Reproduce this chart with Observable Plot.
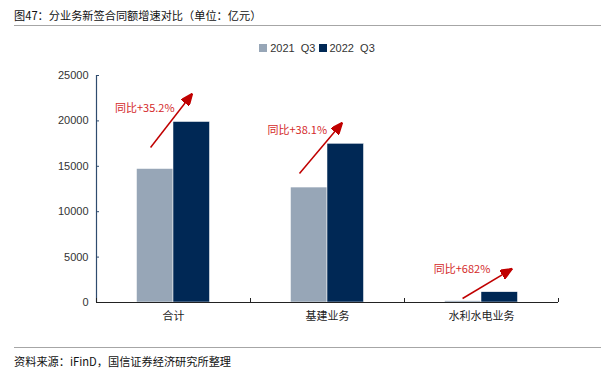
<!DOCTYPE html>
<html>
<head>
<meta charset="utf-8">
<script src="https://cdn.jsdelivr.net/npm/d3@7"></script>
<script src="https://cdn.jsdelivr.net/npm/@observablehq/plot@0.6"></script>
<style>
  html, body { margin: 0; padding: 0; background: #fff; }
  body { width: 601px; height: 376px; position: relative; overflow: hidden;
         font-family: "Noto Sans CJK SC", "Liberation Sans", sans-serif; color: #222; }
  #title { position: absolute; left: 14px; top: 8px; font-size: 11.2px; line-height: 14px; color: #111; }
  .hr { position: absolute; left: 14px; right: 0; height: 0; border-top: 1.5px solid #a6a6a6; }
  #legend { position: absolute; left: 0; width: 601px; top: 42px; text-align: center;
            font-family: "Liberation Sans", Arial, sans-serif; font-size: 11px; line-height: 13px; color: #333; padding-left: 36px; box-sizing: border-box; }
  #legend span.sw { display: inline-block; width: 8px; height: 8px; margin-right: 3px; vertical-align: -0px; }
  #legend span.item { margin-right: 3px; white-space: pre; }
  #chart { position: absolute; left: 0; top: 60px; }
  #source { position: absolute; left: 14px; top: 354px; font-size: 11.2px; line-height: 14px; color: #111; }
</style>
</head>
<body>
<div id="title"></div>
<div class="hr" style="top:25px"></div>
<div id="legend"></div>
<div id="chart"></div>
<div class="hr" style="top:347px"></div>
<div id="source"></div>
<script>
// ---- data ----
const categories = ["合计", "基建业务", "水利水电业务"];
const seriesNames = ["2021 Q3", "2022 Q3"];
const values2021 = [14700, 12660, 145];
const values2022 = [19880, 17480, 1134];
const growthLabels = ["同比+35.2%", "同比+38.1%", "同比+682%"];
const yTicks = [0, 5000, 10000, 15000, 20000, 25000];
const titleText = "图47：分业务新签合同额增速对比（单位：亿元）";
const sourceText = "资料来源：iFinD，国信证券经济研究所整理";
// annotation arrows (value units): start / end heights
const arrowFromY = [17070, 14200, 440];
const arrowToY = [23020, 19820, 3740];
const labelY = [21370, 18940, 3630];

// ---- styles / layout ----
const colors = ["#97a6b7", "#002855"];
const red = "#c00000";
const barW = 0.237;          // fraction of category slot
const arrowDx1 = [-0.149, -0.182, -0.123];
const arrowDx2 = [0.123, 0.097, 0.201];
const labelDx = [-0.38, -0.39, -0.31];

document.getElementById("title").textContent = titleText;
document.getElementById("source").textContent = sourceText;
document.getElementById("legend").innerHTML = seriesNames.map((s, i) =>
  `<span class="sw" style="background:${colors[i]}"></span><span class="item">${s.replace(" ", "  ")}</span>`).join("");

const bars = [];
categories.forEach((c, i) => {
  bars.push({cat: c, i, series: seriesNames[0], value: values2021[i], x1: i + 0.5 - barW, x2: i + 0.5});
  bars.push({cat: c, i, series: seriesNames[1], value: values2022[i], x1: i + 0.5, x2: i + 0.5 + barW});
});
const ann = categories.map((c, i) => ({
  cat: c, i,
  x1: i + 0.5 + arrowDx1[i], y1: arrowFromY[i],
  x2: i + 0.5 + arrowDx2[i], y2: arrowToY[i],
  lx: i + 0.5 + labelDx[i], ly: labelY[i], label: growthLabels[i]
}));

function filledHead(index, scales, values, dims, context, next) {
  const g = next(index, scales, values, dims, context);
  const ns = "http://www.w3.org/2000/svg";
  const id = "arrowhead-fill";
  const paths = Array.from(g.querySelectorAll("path"));
  const marker = document.createElementNS(ns, "marker");
  marker.setAttribute("id", id);
  marker.setAttribute("viewBox", "0 0 12 10");
  marker.setAttribute("refX", "12");
  marker.setAttribute("refY", "5");
  marker.setAttribute("markerUnits", "userSpaceOnUse");
  marker.setAttribute("markerWidth", "12");
  marker.setAttribute("markerHeight", "10");
  marker.setAttribute("orient", "auto");
  const p = document.createElementNS(ns, "path");
  p.setAttribute("d", "M0,0L12,5L0,10z");
  p.setAttribute("fill", red);
  marker.appendChild(p);
  g.insertBefore(marker, g.firstChild);
  paths.forEach(el => el.setAttribute("marker-end", `url(#${id})`));
  return g;
}

const chart = Plot.plot({
  width: 601,
  height: 270,
  marginLeft: 96,
  marginRight: 43,
  marginTop: 15,
  marginBottom: 28,
  style: {fontFamily: "'Liberation Sans', Arial, sans-serif", fontSize: "11px", color: "#333", background: "transparent"},
  x: {domain: [0, 3], axis: null},
  y: {domain: [0, 25000], axis: null},
  marks: [
    Plot.rectY(bars, {x1: "x1", x2: "x2", y: "value", fill: d => d.series === seriesNames[0] ? colors[0] : colors[1], stroke: "#fff", strokeWidth: 0.5}),
    Plot.ruleX([0], {stroke: "#2f4b6e", strokeWidth: 1.2}),
    Plot.axisY({ticks: yTicks, tickSize: -3, tickPadding: 11, stroke: "#2f4b6e", tickFormat: d => String(d), fill: "#333"}),
    Plot.ruleY([0], {stroke: "#222", strokeWidth: 1.2}),
    Plot.axisX({ticks: [0, 1, 2, 3], tickSize: -4, tickFormat: () => "", stroke: "#222"}),
    Plot.axisX({ticks: categories.map((c, i) => i + 0.5), tickSize: 0, tickPadding: 10, tickFormat: d => categories[Math.floor(d)], fontFamily: "'Noto Sans CJK SC', sans-serif", fontSize: 11, fill: "#222"}),
    Plot.link(ann, {x1: "x1", y1: "y1", x2: "x2", y2: "y2", stroke: red, strokeWidth: 1.5, render: filledHead}),
    Plot.text(ann, {x: "lx", y: "ly", text: "label", textAnchor: "start", fill: "#d42a2a", fontSize: 11, fontFamily: "'Noto Sans CJK SC', sans-serif"})
  ]
});
document.getElementById("chart").appendChild(chart);
</script>
</body>
</html>
